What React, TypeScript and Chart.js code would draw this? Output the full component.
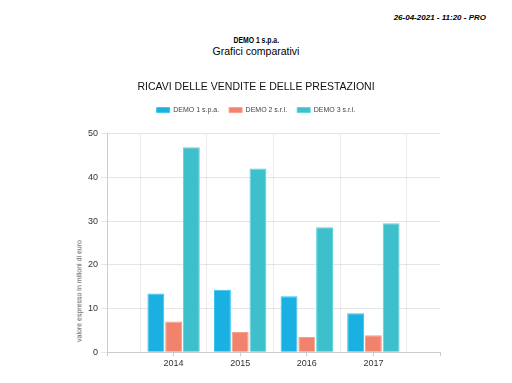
import React, { useEffect, useRef } from "react";
import { Chart, registerables } from "chart.js";

Chart.register(...registerables);

const years = ["2014", "2015", "2016", "2017"];
const labels = ["", ...years, ""];
const demo1 = [13.4, 14.3, 12.8, 8.9];
const demo2 = [7.0, 4.6, 3.5, 3.9];
const demo3 = [46.9, 42.0, 28.6, 29.5];
const seriesNames = ["DEMO 1 s.p.a.", "DEMO 2 s.r.l.", "DEMO 3 s.r.l."];
const yTitle = "valore espresso in milioni di euro";
const pad = (arr: number[]) => [null, ...arr, null];

const FONT = "'Liberation Sans', Arial, sans-serif";

const legendMargin = {
  id: "legendMargin",
  beforeInit(chart: any) {
    const legend = chart.legend;
    if (!legend) return;
    const origFit = legend.fit;
    legend.fit = function () {
      origFit.bind(legend)();
      this.height += 10;
    };
  },
};

export default function App() {
  const ref = useRef<HTMLCanvasElement | null>(null);
  useEffect(() => {
    if (!ref.current) return;
    const chart = new Chart(ref.current, {
      type: "bar",
      data: {
        labels,
        datasets: [
          { label: seriesNames[0], data: pad(demo1), backgroundColor: "#1bb0e2", borderColor: "#3cc2f0", borderWidth: 1 },
          { label: seriesNames[1], data: pad(demo2), backgroundColor: "#f1836d", borderColor: "#f7a08c", borderWidth: 1 },
          { label: seriesNames[2], data: pad(demo3), backgroundColor: "#3ebfcc", borderColor: "#5cd3de", borderWidth: 1 },
        ],
      },
      plugins: [legendMargin],
      options: {
        animation: false,
        responsive: false,
        maintainAspectRatio: false,
        layout: { padding: { top: 8, right: 72, bottom: 12, left: 72 } },
        datasets: { bar: { barPercentage: 0.95, categoryPercentage: 0.8 } },
        plugins: {
          title: {
            display: true,
            text: "RICAVI DELLE VENDITE E DELLE PRESTAZIONI",
            color: "#111",
            font: { family: FONT, size: 10.5, weight: "normal" },
            padding: { top: 0, bottom: 3 },
          },
          legend: {
            labels: {
              boxWidth: 13,
              boxHeight: 5,
              color: "#444",
              font: { family: FONT, size: 7 },
              padding: 10,
            },
          },
          tooltip: { enabled: false },
        },
        scales: {
          x: {
            type: "category",
            offset: false,
            grid: { offset: false, drawOnChartArea: false, tickLength: 4, color: "#ccc" },
            border: { color: "#ccc" },
            ticks: { color: "#333", font: { family: FONT, size: 9 }, padding: 2, maxRotation: 0, autoSkip: false },
          },
          x2: {
            type: "category",
            position: "top",
            offset: false,
            grid: { offset: true, drawTicks: false, color: "rgba(0,0,0,0.08)" },
            border: { display: false },
            ticks: { display: false },
          },
          y: {
            min: 0,
            max: 50,
            ticks: { stepSize: 10, color: "#333", font: { family: FONT, size: 9 }, padding: 3 },
            grid: { color: "rgba(0,0,0,0.1)", tickLength: 6 },
            border: { color: "#ccc" },
            afterFit(scale: any) {
              scale.width += 13;
            },
          },
        },
      },
    });
    return () => chart.destroy();
  }, []);

  return (
    <div style={{ position: "absolute", left: 0, top: 0, width: 512, height: 383, background: "#fff", overflow: "hidden" }}>
      <div style={{ position: "absolute", right: 26, top: 13, font: `italic bold 8px ${FONT}`, color: "#000" }}>
        26-04-2021 - 11:20 - PRO
      </div>
      <div style={{ position: "absolute", left: 0, width: 512, top: 34, textAlign: "center", font: `bold 9.5px ${FONT}`, color: "#000", transform: "scaleX(0.72)", transformOrigin: "257px 0" }}>
        DEMO 1 s.p.a.
      </div>
      <div style={{ position: "absolute", left: 0, width: 512, top: 45, textAlign: "center", font: `10.5px ${FONT}`, color: "#000" }}>
        Grafici comparativi
      </div>
      <canvas ref={ref} width={512} height={310} style={{ position: "absolute", left: 0, top: 73, width: 512, height: 310 }} />
      <div style={{ position: "absolute", left: 79, top: 291, whiteSpace: "nowrap", font: `7px ${FONT}`, color: "#555", transform: "translate(-50%, -50%) rotate(-90deg)" }}>
        {yTitle}
      </div>
    </div>
  );
}
